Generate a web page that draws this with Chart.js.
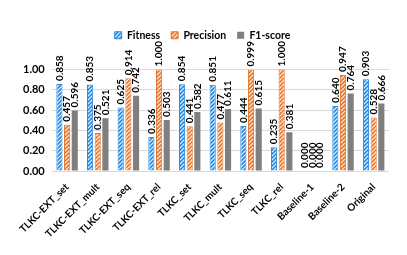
<!DOCTYPE html>
<html>
<head>
<meta charset="utf-8">
<script src="https://cdn.jsdelivr.net/npm/chart.js@4.4.1/dist/chart.umd.min.js"></script>
<style>
  html, body { margin: 0; padding: 0; background: #fff; }
  #wrap { width: 407px; height: 255px; }
</style>
</head>
<body>
<div id="wrap"><canvas id="myChart" width="407" height="255"></canvas></div>
<script>
var categories = ['TLKC-EXT_set', 'TLKC-EXT_mult', 'TLKC-EXT_seq', 'TLKC-EXT_rel', 'TLKC_set',
    'TLKC_mult', 'TLKC_seq', 'TLKC_rel', 'Baseline-1', 'Baseline-2', 'Original'];
var fitness   = [0.858, 0.853, 0.625, 0.336, 0.854, 0.851, 0.444, 0.235, 0.000, 0.640, 0.903];
var precision = [0.457, 0.375, 0.914, 1.000, 0.441, 0.477, 0.999, 1.000, 0.000, 0.947, 0.528];
var f1score   = [0.596, 0.521, 0.742, 0.503, 0.582, 0.611, 0.615, 0.381, 0.000, 0.764, 0.666];

var FONT = 'Lato, "Open Sans", sans-serif';

// diagonal white stripes over a base colour, like the excel hatch fill
function hatch(color) {
    var c = document.createElement('canvas');
    c.width = 4; c.height = 4;
    var g = c.getContext('2d');
    g.fillStyle = color;
    g.fillRect(0, 0, 4, 4);
    g.strokeStyle = 'rgba(255,255,255,0.9)';
    g.lineWidth = 1.2;
    g.beginPath();
    g.moveTo(-1, 5); g.lineTo(5, -1);
    g.moveTo(-1, 1); g.lineTo(1, -1);
    g.moveTo(3, 5); g.lineTo(5, 3);
    g.stroke();
    return g.createPattern(c, 'repeat');
}

// value labels rotated, sitting on top of each bar
var barLabels = {
    id: 'barLabels',
    afterDatasetsDraw: function (chart) {
        var ctx = chart.ctx;
        ctx.save();
        ctx.font = 'bold 10px ' + FONT;
        ctx.fillStyle = '#000';
        ctx.textAlign = 'left';
        ctx.textBaseline = 'middle';
        chart.data.datasets.forEach(function (ds, i) {
            var meta = chart.getDatasetMeta(i);
            meta.data.forEach(function (bar, j) {
                ctx.save();
                ctx.translate(bar.x, bar.y - 3);
                ctx.rotate(-Math.PI / 2);
                ctx.fillText(ds.data[j].toFixed(3), 0, 0);
                ctx.restore();
            });
        });
        ctx.restore();
    }
};

// push the plot area down under the legend
var legendSpace = {
    id: 'legendSpace',
    beforeInit: function (chart) {
        var origFit = chart.legend.fit;
        chart.legend.fit = function () {
            origFit.call(this);
            this.height += 19;
        };
    }
};

var blue = '#2f8ad8';
var orange = '#e07a36';

var ctx = document.getElementById('myChart');
var myChart = new Chart(ctx, {
    type: 'bar',
    data: {
        labels: categories,
        datasets: [{
            label: 'Fitness',
            data: fitness,
            backgroundColor: hatch(blue),
            borderColor: blue,
            borderWidth: 1
        }, {
            label: 'Precision',
            data: precision,
            backgroundColor: hatch(orange),
            borderColor: orange,
            borderWidth: 1
        }, {
            label: 'F1-score',
            data: f1score,
            backgroundColor: '#7f7f7f',
            borderColor: '#7f7f7f',
            borderWidth: 0
        }]
    },
    options: {
        responsive: false,
        animation: false,
        devicePixelRatio: 1,
        layout: { padding: { top: 19, left: 16, right: 18, bottom: 13 } },
        datasets: { bar: { categoryPercentage: 0.75, barPercentage: 0.8 } },
        plugins: {
            legend: {
                position: 'top',
                labels: {
                    boxWidth: 7, boxHeight: 7, padding: 11,
                    color: '#000',
                    font: { family: FONT, size: 10.5, weight: 'bold' }
                }
            },
            tooltip: { enabled: false }
        },
        scales: {
            x: {
                grid: { display: false },
                border: { display: false },
                ticks: {
                    autoSkip: false, maxRotation: 45, minRotation: 45,
                    color: '#000', padding: 2,
                    font: { family: FONT, size: 10, weight: 'bold' }
                }
            },
            y: {
                min: 0, max: 1,
                grid: { color: '#d9d9d9', drawTicks: false },
                border: { display: false },
                ticks: {
                    stepSize: 0.1, padding: 7,
                    color: '#000',
                    font: { family: FONT, size: 11, weight: 'bold' },
                    callback: function (v) { return v.toFixed(2); }
                }
            }
        }
    },
    plugins: [barLabels, legendSpace]
});
</script>
</body>
</html>
